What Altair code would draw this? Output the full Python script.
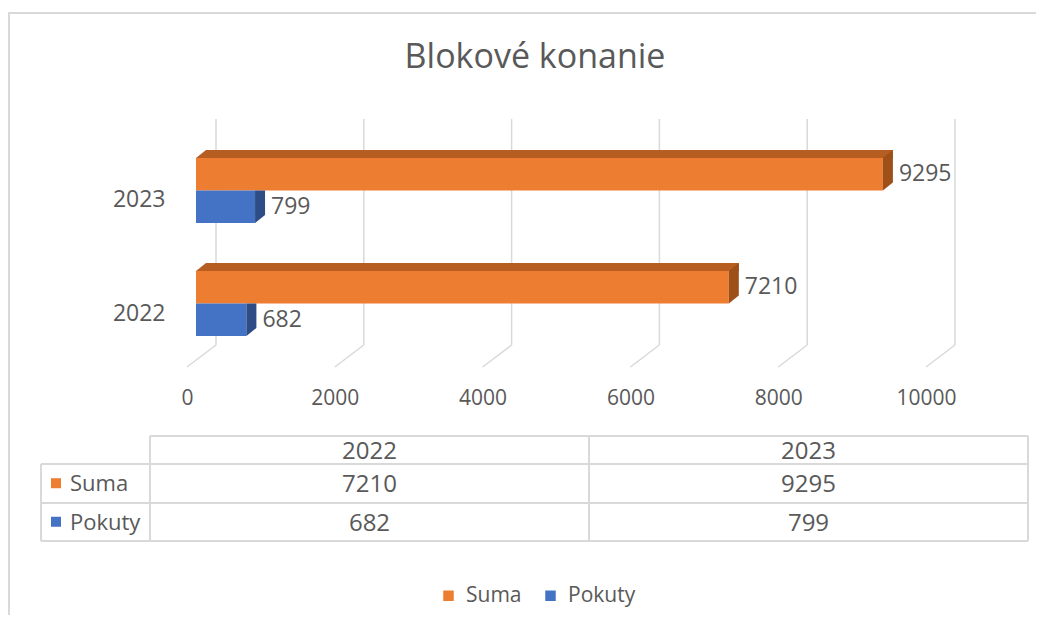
import altair as alt
import pandas as pd

# ---------------- data ----------------
title_text = ["Blokové konanie"]
years = ["2022", "2023"]
series = ["Suma", "Pokuty"]
suma = [7210, 9295]
pokuty = [682, 799]
ticks = [0, 2000, 4000, 6000, 8000, 10000]

front_colors = ["#ED7D31", "#4472C4"]
top_color = "#B65E22"
side_orange = "#9E5019"
side_blue = "#2E4D86"
grid_color = "#D9D9D9"
text_color = "#595959"
FONT = "Open Sans"

rows = []
for i, yr in enumerate(years):
    rows.append({"year": yr, "series": "Suma", "value": suma[i]})
    rows.append({"year": yr, "series": "Pokuty", "value": pokuty[i]})
df = pd.DataFrame(rows)
tick_df = pd.DataFrame({"tick": ticks})
title_df = pd.DataFrame({"t": title_text})
years_df = pd.DataFrame({"year": years})
series_df = pd.DataFrame({"series": series})

# ---------------- layout ----------------
W, H = 1028, 607
PX = 739 / 10000.0          # pixels per unit
X0 = 179                    # plot px of the floor-front zero
DF, DB, DW = 9, 19, 29      # depth offsets: bar front, bar back, back wall
xs = alt.Scale(domain=[-X0 / PX, (W - X0) / PX], nice=False, zero=False)

BAND_TOP, BAND_BOT = 150, 328
P_IN = 0.425
ys = alt.Scale(domain=["2023", "2022"], range=[BAND_TOP, BAND_BOT],
               paddingInner=P_IN, paddingOuter=0)
yo = alt.Scale(domain=series, paddingInner=0, paddingOuter=0)
step = (BAND_BOT - BAND_TOP) / (2 - P_IN)
half = step * (1 - P_IN) / 4.0   # half of sub-band height
cs = alt.Scale(domain=series, range=front_colors)

U = 20.0  # px per shape unit (size 1600)


def path(pts):
    return "M" + "L".join(f"{x / U:.4f},{y / U:.4f}" for x, y in pts) + "Z"


left_tri = path([(0, -half), (10, -half - 8), (10, -half)])
side_or = path([(0, -half), (10, -half - 8), (10, half - 8), (0, half)])
side_bl = path([(0, -half), (10, -half), (10, half - 8), (0, half)])

base = alt.Chart(df).transform_calculate(base="0")
Xv = alt.X("value:Q", scale=xs, axis=None)
Xb = alt.X("base:Q", scale=xs, axis=None)
Yn = alt.Y("year:N", scale=ys, axis=None)
YO = alt.YOffset("series:N", scale=yo)

layers = []

# chart frame
layers.append(alt.Chart(title_df).mark_rule(color=grid_color, strokeWidth=2).encode(
    x=alt.value(0), x2=alt.value(W), y=alt.value(5)))
layers.append(alt.Chart(title_df).mark_rule(color=grid_color, strokeWidth=2).encode(
    x=alt.value(1), y=alt.value(5), y2=alt.value(H)))

# title
layers.append(alt.Chart(title_df).mark_text(
    font=FONT, fontSize=34, color=text_color, baseline="middle", align="center"
).encode(x=alt.value(527), y=alt.value(50), text="t:N"))

# back wall gridlines
layers.append(alt.Chart(tick_df).mark_rule(color=grid_color, strokeWidth=1.5, xOffset=DW).encode(
    x=alt.X("tick:Q", scale=xs, axis=None), y=alt.value(111), y2=alt.value(337)))
# floor diagonals + axis labels
layers.append(alt.Chart(tick_df).mark_rule(color=grid_color, strokeWidth=1.5,
                                           xOffset=DW, x2Offset=0).encode(
    x=alt.X("tick:Q", scale=xs, axis=alt.Axis(
        values=ticks, orient="bottom", offset=359 - H, labelPadding=20, ticks=False,
        tickSize=0, domain=False, grid=False, labelFontSize=21, labelColor=text_color,
        labelFont=FONT, title=None, format="d")),
    x2="tick:Q", y=alt.value(337), y2=alt.value(359)))

# front faces
layers.append(base.mark_bar(xOffset=DF, x2Offset=DF, opacity=1).encode(
    x=Xb, x2="value:Q",
    y=alt.Y("year:N", scale=ys, axis=alt.Axis(
        orient="left", offset=-157, labelPadding=0, ticks=False, tickSize=0,
        domain=False, grid=False, labelFontSize=23, labelColor=text_color,
        labelFont=FONT, labelOffset=10, title=None)),
    yOffset=YO,
    color=alt.Color("series:N", scale=cs, legend=alt.Legend(
        orient="none", legendX=430, legendY=577, direction="horizontal", title=None,
        symbolType="square", symbolSize=110, symbolStrokeWidth=0, labelFontSize=21,
        labelColor=text_color, labelFont=FONT, labelOffset=7, columnPadding=18,
        padding=0))))

# top faces (orange only visible) - positioned from the group band
top = base.transform_filter(alt.datum.series == "Suma")
layers.append(top.mark_bar(xOffset=DB, x2Offset=DB, size=8, yOffset=-(2 * half + 4),
                           color=top_color, opacity=1).encode(
    x=Xb, x2="value:Q", y=Yn))
layers.append(top.mark_point(shape=left_tri, size=U * U * 4, filled=True, opacity=1,
                             strokeWidth=0, color=top_color, xOffset=DF).encode(
    x=Xb, y=Yn, yOffset=YO))
# side faces
layers.append(top.mark_point(shape=side_or, size=U * U * 4, filled=True, opacity=1,
                             strokeWidth=0, color=side_orange, xOffset=DF).encode(
    x=Xv, y=Yn, yOffset=YO))
layers.append(base.transform_filter(alt.datum.series == "Pokuty").mark_point(
    shape=side_bl, size=U * U * 4, filled=True, opacity=1, strokeWidth=0,
    color=side_blue, xOffset=DF).encode(x=Xv, y=Yn, yOffset=YO))

# data labels
layers.append(base.mark_text(align="left", baseline="middle", dx=25, font=FONT,
                             fontSize=23, color=text_color).encode(
    x=Xv, y=Yn, yOffset=YO, text=alt.Text("value:Q", format="d")))

# ---------------- data table ----------------
def hline(y, x1, x2):
    return alt.Chart(title_df).mark_rule(color=grid_color, strokeWidth=2).encode(
        x=alt.value(x1), x2=alt.value(x2), y=alt.value(y))


def vline(x, y1, y2):
    return alt.Chart(title_df).mark_rule(color=grid_color, strokeWidth=2).encode(
        x=alt.value(x), y=alt.value(y1), y2=alt.value(y2))


T_L, T_C, T_M, T_R = 33, 142, 581, 1020
R0, R1, R2, R3 = 428, 456, 495, 533
layers += [hline(R0, T_C, T_R), hline(R1, T_L, T_R), hline(R2, T_L, T_R), hline(R3, T_L, T_R),
           vline(T_L, R1, R3), vline(T_C, R0, R3), vline(T_M, R0, R3), vline(T_R, R0, R3)]

tx = alt.Scale(domain=years, range=[T_C, T_R], paddingInner=0, paddingOuter=0)
ty = alt.Scale(domain=series, range=[R1, R3], paddingInner=0, paddingOuter=0)

layers.append(alt.Chart(years_df).mark_text(font=FONT, fontSize=24, color=text_color,
                                            baseline="middle", dy=2).encode(
    x=alt.X("year:N", scale=tx, axis=None), y=alt.value(442), text="year:N"))
layers.append(alt.Chart(df).mark_text(font=FONT, fontSize=24, color=text_color,
                                      baseline="middle", dy=2).encode(
    x=alt.X("year:N", scale=tx, axis=None),
    y=alt.Y("series:N", scale=ty, axis=None),
    text=alt.Text("value:Q", format="d")))
layers.append(alt.Chart(series_df).mark_square(size=100, opacity=1, strokeWidth=0).encode(
    x=alt.value(48), y=alt.Y("series:N", scale=ty, axis=None),
    color=alt.Color("series:N", scale=cs, legend=None)))
layers.append(alt.Chart(series_df).mark_text(font=FONT, fontSize=22, color=text_color,
                                             align="left", baseline="middle", dy=1).encode(
    x=alt.value(62), y=alt.Y("series:N", scale=ty, axis=None), text="series:N"))

chart = alt.layer(*layers).resolve_scale(
    x="independent", y="independent"
).resolve_legend(color="independent").properties(
    width=W, height=H, autosize=alt.AutoSizeParams(type="none"), padding=0,
    background="white"
).configure_view(stroke=None)

chart.save("out.html", embed_options={"renderer": "svg", "actions": False})
